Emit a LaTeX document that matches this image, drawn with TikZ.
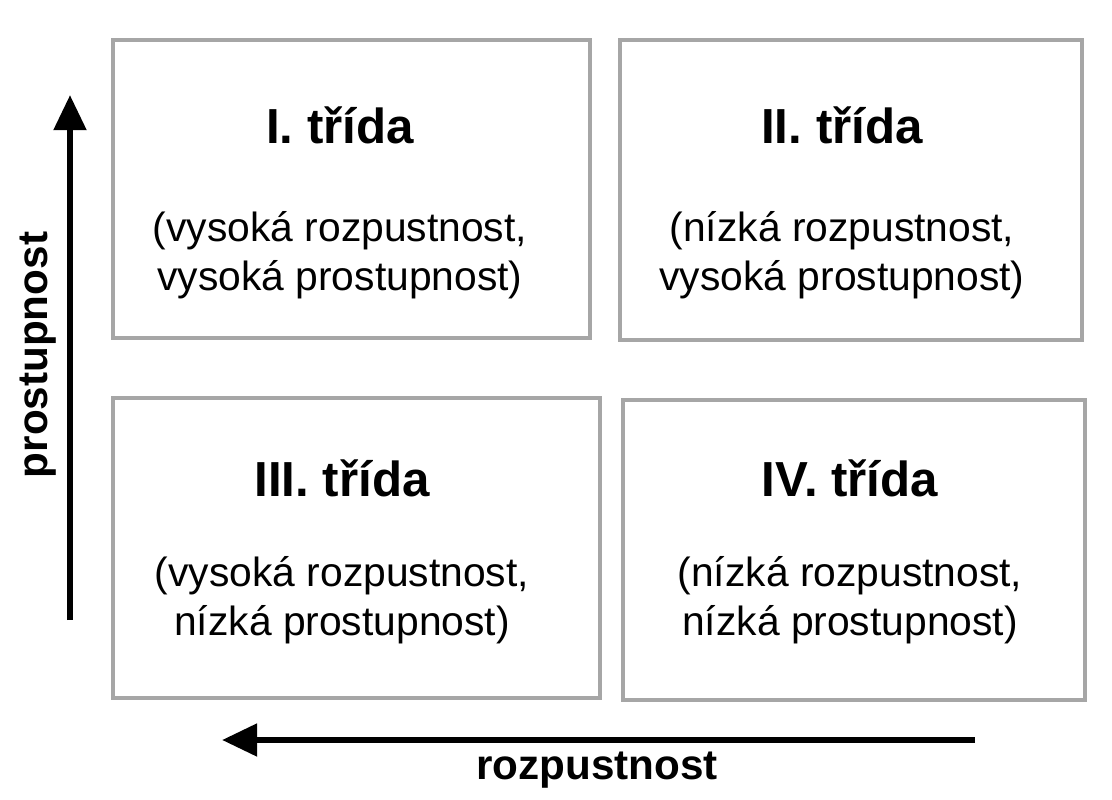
\documentclass[tikz,border=0pt]{standalone}
\usepackage{fontspec}
\setmainfont{Liberation Sans}
\usetikzlibrary{arrows.meta}
\begin{document}
\begin{tikzpicture}[x=0.01cm,y=-0.01cm,
  box/.style={draw=black!35,line width=1pt},
  ttl/.style={font=\fontsize{14}{16}\selectfont\bfseries},
  body/.style={font=\fontsize{11.6}{14}\selectfont,align=center},
  axis/.style={line width=1.8pt,-{Triangle[length=10pt,width=9pt]}}]
\useasboundingbox (0,0) rectangle (1112,800);
\draw[box] (113,40) rectangle (590,338);
\draw[box] (620,40) rectangle (1082,340);
\draw[box] (113,398) rectangle (600,698);
\draw[box] (623,400) rectangle (1085,700);
\node[ttl] (t1) at (340,125) {I. třída};
\node[body] (b1) at (340,255) {(vysoká rozpustnost,\\vysoká prostupnost)};
\node[ttl] (t2) at (842,125) {II. třída};
\node[body] (b2) at (842,255) {(nízká rozpustnost,\\vysoká prostupnost)};
\node[ttl] (t3) at (342,478) {III. třída};
\node[body] (b3) at (342,600) {(vysoká rozpustnost,\\nízká prostupnost)};
\node[ttl] (t4) at (850,478) {IV. třída};
\node[body] (b4) at (850,600) {(nízká rozpustnost,\\nízká prostupnost)};
\coordinate (v0) at (70,620);
\coordinate (v1) at (70,95);
\coordinate (h0) at (975,740);
\coordinate (h1) at (222,740);
\draw[axis] (v0) -- (v1);
\draw[axis] (h0) -- (h1);
\node[font=\fontsize{12}{14}\selectfont\bfseries,rotate=90] (ly) at (38,355) {prostupnost};
\node[font=\fontsize{12}{14}\selectfont\bfseries] (lx) at (597,770) {rozpustnost};
\end{tikzpicture}
\end{document}
